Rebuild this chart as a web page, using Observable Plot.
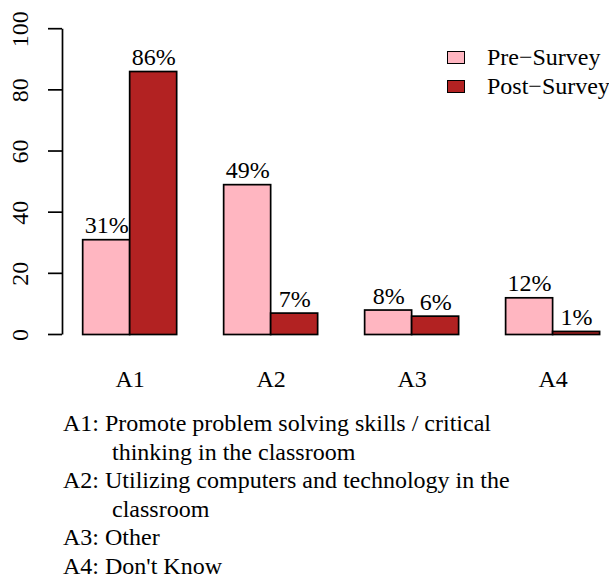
<!DOCTYPE html>
<html><head><meta charset="utf-8">
<script src="https://cdn.jsdelivr.net/npm/d3@7"></script>
<script src="https://cdn.jsdelivr.net/npm/@observablehq/plot@0.6"></script>
<style>
body{margin:0;background:#fff;font-family:"Liberation Serif",serif;color:#000;}
#wrap{position:relative;width:609px;height:579px;overflow:hidden;}
#legend{position:absolute;left:447px;top:42.8px;font-size:24px;}
.row{display:flex;align-items:center;height:29px;white-space:nowrap;}
.sw{box-sizing:border-box;width:17.6px;height:13.6px;border:1.7px solid #000;margin-right:22.4px;}
#caption{font-size:24px;line-height:28.5px;margin-top:9.4px;}
.l{padding-left:63px;white-space:nowrap;}
.c{padding-left:112px;white-space:nowrap;}
</style></head><body>
<div id="wrap"><div id="chart"></div><div id="legend"></div><div id="caption"></div></div>
<script>
const categories = ["A1", "A2", "A3", "A4"];
const series = ["Pre−Survey", "Post−Survey"];
const preValues = [31, 49, 8, 12];
const postValues = [86, 7, 6, 1];
const yTicks = [0, 20, 40, 60, 80, 100];
const colors = ["#FFB6C1", "#B22222"];
const captionLines = [
  ["A1: Promote problem solving skills / critical", "thinking in the classroom"],
  ["A2: Utilizing computers and technology in the", "classroom"],
  ["A3: Other"],
  ["A4: Don't Know"]
];

// R barplot(beside=TRUE) layout: each group = 1 unit gap + 2 bars of width 1
const valuesBySeries = [preValues, postValues];
const rows = [];
categories.forEach((c, i) => {
  series.forEach((s, j) => {
    rows.push({category: c, series: s, value: valuesBySeries[j][i], x1: 1 + 3 * i + j, x2: 2 + 3 * i + j});
  });
});
const centers = categories.map((c, i) => 2 + 3 * i);
const xDomain = [1 - 0.44, 12.2];
const yDomain = [0, 100];

const W = 609, ML = 62, TICK = 14;

const chart = Plot.plot({
  width: W,
  height: 400,
  marginLeft: ML,
  marginRight: 0,
  marginTop: 28.7,
  marginBottom: 65.5,
  style: {fontFamily: "Liberation Serif, serif", fontSize: "24px", background: "#fff", color: "#000", overflow: "visible"},
  x: {type: "linear", domain: xDomain, axis: null},
  y: {domain: yDomain, axis: null},
  color: {domain: series, range: colors},
  marks: [
    Plot.rectY(rows, {x1: "x1", x2: "x2", y1: () => 0, y2: "value", fill: "series", stroke: "#000", strokeWidth: 1.7}),
    Plot.text(rows, {x: d => (d.x1 + d.x2) / 2, y: "value", text: d => d.value + "%", dy: -7, lineAnchor: "bottom", fontSize: 24}),
    Plot.ruleX([{x: xDomain[0], y1: yDomain[0], y2: yDomain[1]}], {x: "x", y1: "y1", y2: "y2", strokeWidth: 1.7}),
    Plot.axisY({ticks: yTicks, tickSize: 0, tickPadding: 34.7, rotate: -90, textAnchor: "middle", lineAnchor: "bottom", fontSize: 24, label: null}),
    Plot.axisX({ticks: centers, tickFormat: (d, i) => categories[i], tickSize: 0, tickPadding: 35.2, fontSize: 24, label: null})
  ]
});
document.getElementById("chart").appendChild(chart);

// y-axis tick marks, positioned through Plot's own scales
const ys = chart.scale("y"), xs = chart.scale("x");
const x0 = xs.apply(xDomain[0]);
const g = d3.select(chart).append("g").attr("class", "y-ticks").attr("stroke", "#000").attr("stroke-width", 1.7);
yTicks.forEach(v => {
  const y = ys.apply(v);
  g.append("line").attr("x1", x0 - TICK).attr("x2", x0).attr("y1", y).attr("y2", y);
});

const legend = document.getElementById("legend");
series.forEach((s, j) => {
  const row = document.createElement("div");
  row.className = "row";
  const sw = document.createElement("span");
  sw.className = "sw";
  sw.style.background = colors[j];
  const t = document.createElement("span");
  t.textContent = s;
  row.appendChild(sw); row.appendChild(t);
  legend.appendChild(row);
});

const cap = document.getElementById("caption");
captionLines.forEach(lines => {
  lines.forEach((txt, k) => {
    const d = document.createElement("div");
    d.className = k === 0 ? "l" : "c";
    d.textContent = txt;
    cap.appendChild(d);
  });
});
</script>
</body></html>
